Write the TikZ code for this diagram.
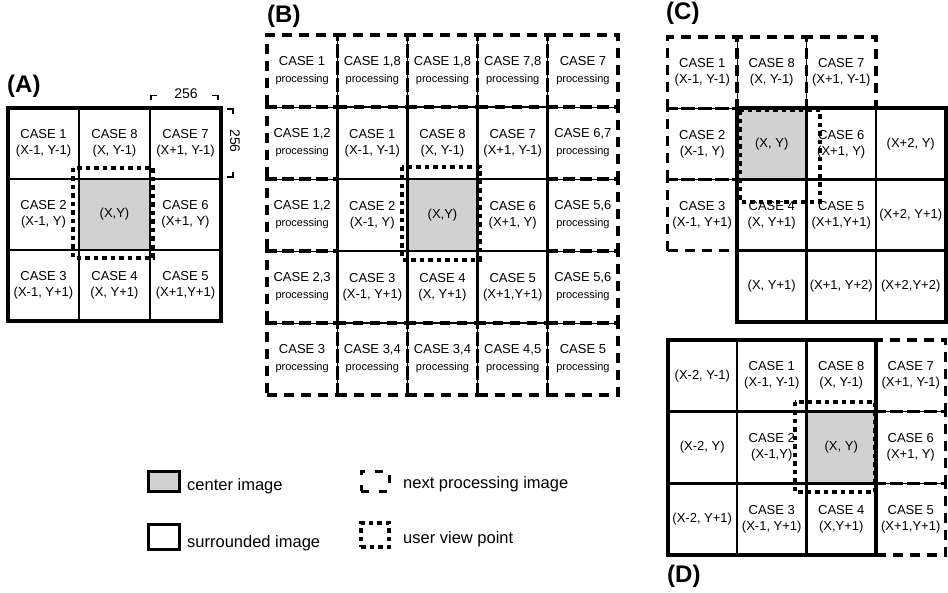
\documentclass[tikz,border=0pt]{standalone}
\usepackage{fontspec}
\setmainfont{Liberation Sans}
\usetikzlibrary{calc}
\newcommand\mycellfont{\fontsize{13}{16}\selectfont}
\newcommand\prc[1]{CASE #1\\[1pt]{\fontsize{11}{13}\selectfont processing}}
\tikzset{
  cellbase/.style={inner sep=0pt, outer sep=0pt, align=center, font=\mycellfont},
  solidc/.style={cellbase, draw, line width=2.8pt},
  dashc/.style={cellbase, draw, line width=3.2pt, dash pattern=on 10pt off 7pt},
  ctr/.style={fill=black!18},
  viewbox/.style={line width=4pt, dash pattern=on 4.5pt off 4pt},
  frame/.style={line width=4pt},
  thinl/.style={line width=0.8pt},
  szA/.style={minimum width=71pt, minimum height=71pt},
  szB/.style={minimum width=70.2pt, minimum height=72pt},
  szC/.style={minimum width=69.5pt, minimum height=71.25pt},
  szD/.style={minimum width=69.5pt, minimum height=71.67pt},
  lbl/.style={inner sep=0pt, anchor=base west, font=\fontsize{24}{24}\selectfont\bfseries},
  legtext/.style={inner sep=0pt, anchor=base west, font=\fontsize{16.5}{18}\selectfont},
  dimtext/.style={inner sep=0pt, font=\fontsize{14}{14}\selectfont},
  brk/.style={line width=1.3pt}
}
\begin{document}
\begin{tikzpicture}[x=1pt,y=-1pt]
\useasboundingbox (0,0) rectangle (948,593);
% ---------------- (A)
\node[lbl] (labA) at (7,93) {(A)};
\node[solidc,szA] (a11) at (43.5,143.5) {CASE 1\\(X-1, Y-1)};
\node[solidc,szA] (a12) at (114.5,143.5) {CASE 8\\(X, Y-1)};
\node[solidc,szA] (a13) at (185.5,143.5) {CASE 7\\(X+1, Y-1)};
\node[solidc,szA] (a21) at (43.5,214.5) {CASE 2\\(X-1, Y)};
\node[solidc,szA,ctr] (a22) at (114.5,214.5) {(X,Y)};
\node[solidc,szA] (a23) at (185.5,214.5) {CASE 6\\(X+1, Y)};
\node[solidc,szA] (a31) at (43.5,285.5) {CASE 3\\(X-1, Y+1)};
\node[solidc,szA] (a32) at (114.5,285.5) {CASE 4\\(X, Y+1)};
\node[solidc,szA] (a33) at (185.5,285.5) {CASE 5\\(X+1,Y+1)};
\draw[frame] (a11.north west) rectangle (a33.south east);
\draw[viewbox] ($(a22.north west)+(-6,-11)$) rectangle ($(a22.south east)+(3,8)$);
% dimensions
\node[dimtext] (dimh) at (186,94) {256};
\draw[brk] (151,100) -- (151,95.5) -- (157,95.5);
\draw[brk] (212,95.5) -- (218,95.5) -- (218,100);
\node[dimtext, rotate=-90] (dimv) at (235,141) {256};
\draw[brk] (227,109) -- (233,109) -- (233,114);
\draw[brk] (227,177) -- (233,177) -- (233,172);
% ---------------- (B)
\node[lbl] (labB) at (267,23) {(B)};
\node[dashc,szB] (b11) at (302.1,71) {\prc{1}};
\node[dashc,szB] (b12) at (372.3,71) {\prc{1,8}};
\node[dashc,szB] (b13) at (442.5,71) {\prc{1,8}};
\node[dashc,szB] (b14) at (512.7,71) {\prc{7,8}};
\node[dashc,szB] (b15) at (582.9,71) {\prc{7}};
\node[dashc,szB] (b21) at (302.1,143) {\prc{1,2}};
\node[dashc,szB] (b25) at (582.9,143) {\prc{6,7}};
\node[dashc,szB] (b31) at (302.1,215) {\prc{1,2}};
\node[dashc,szB] (b35) at (582.9,215) {\prc{5,6}};
\node[dashc,szB] (b41) at (302.1,287) {\prc{2,3}};
\node[dashc,szB] (b45) at (582.9,287) {\prc{5,6}};
\node[dashc,szB] (b51) at (302.1,359) {\prc{3}};
\node[dashc,szB] (b52) at (372.3,359) {\prc{3,4}};
\node[dashc,szB] (b53) at (442.5,359) {\prc{3,4}};
\node[dashc,szB] (b54) at (512.7,359) {\prc{4,5}};
\node[dashc,szB] (b55) at (582.9,359) {\prc{5}};
\foreach \n in {b11,b12,b13,b14,b51,b52,b53,b54}
  \draw[thinl] (\n.north east) -- (\n.south east);
\foreach \n in {b11,b21,b31,b41,b15,b25,b35,b45}
  \draw[thinl] (\n.south west) -- (\n.south east);
\node[solidc,szB] (b22) at (372.3,143) {CASE 1\\(X-1, Y-1)};
\node[solidc,szB] (b23) at (442.5,143) {CASE 8\\(X, Y-1)};
\node[solidc,szB] (b24) at (512.7,143) {CASE 7\\(X+1, Y-1)};
\node[solidc,szB] (b32) at (372.3,215) {CASE 2\\(X-1, Y)};
\node[solidc,szB,ctr] (b33) at (442.5,215) {(X,Y)};
\node[solidc,szB] (b34) at (512.7,215) {CASE 6\\(X+1, Y)};
\node[solidc,szB] (b42) at (372.3,287) {CASE 3\\(X-1, Y+1)};
\node[solidc,szB] (b43) at (442.5,287) {CASE 4\\(X, Y+1)};
\node[solidc,szB] (b44) at (512.7,287) {CASE 5\\(X+1,Y+1)};
\draw[viewbox] ($(b33.north west)+(-5,-12)$) rectangle ($(b33.south east)+(2.5,9)$);
% ---------------- (C)
\node[lbl] (labC) at (666,20) {(C)};
\node[dashc,szC] (c01) at (702.25,72.6) {CASE 1\\(X-1, Y-1)};
\node[dashc,szC] (c02) at (771.75,72.6) {CASE 8\\(X, Y-1)};
\node[dashc,szC] (c03) at (841.25,72.6) {CASE 7\\(X+1, Y-1)};
\node[dashc,szC] (c11) at (702.25,143.9) {CASE 2\\(X-1, Y)};
\node[dashc,szC] (c21) at (702.25,215.1) {CASE 3\\(X-1, Y+1)};
\foreach \n in {c01,c02}
  \draw[thinl] (\n.north east) -- (\n.south east);
\foreach \n in {c01,c11}
  \draw[thinl] (\n.south west) -- (\n.south east);
\node[solidc,szC,ctr] (c12) at (771.75,143.9) {(X, Y)};
\node[solidc,szC] (c13) at (841.25,143.9) {CASE 6\\(X+1, Y)};
\node[solidc,szC] (c14) at (910.75,143.9) {(X+2, Y)};
\node[solidc,szC] (c22) at (771.75,215.1) {CASE 4\\(X, Y+1)};
\node[solidc,szC] (c23) at (841.25,215.1) {CASE 5\\(X+1,Y+1)};
\node[solidc,szC] (c24) at (910.75,215.1) {(X+2, Y+1)};
\node[solidc,szC] (c32) at (771.75,286.4) {(X, Y+1)};
\node[solidc,szC] (c33) at (841.25,286.4) {(X+1, Y+2)};
\node[solidc,szC] (c34) at (910.75,286.4) {(X+2,Y+2)};
\draw[frame] (c12.north west) rectangle (c34.south east);
\draw[viewbox] ($(c12.north west)+(3,2)$) rectangle ($(c12.south east)+(13.5,22.5)$);
% ---------------- (D)
\node[dashc,szD] (d14) at (910.75,375.8) {CASE 7\\(X+1, Y-1)};
\node[dashc,szD] (d24) at (910.75,447.5) {CASE 6\\(X+1, Y)};
\node[dashc,szD] (d34) at (910.75,519.2) {CASE 5\\(X+1,Y+1)};
\foreach \n in {d14,d24}
  \draw[thinl] (\n.south west) -- (\n.south east);
\node[solidc,szD] (d11) at (702.25,375.8) {(X-2, Y-1)};
\node[solidc,szD] (d12) at (771.75,375.8) {CASE 1\\(X-1, Y-1)};
\node[solidc,szD] (d13) at (841.25,375.8) {CASE 8\\(X, Y-1)};
\node[solidc,szD] (d21) at (702.25,447.5) {(X-2, Y)};
\node[solidc,szD] (d22) at (771.75,447.5) {CASE 2\\(X-1,Y)};
\node[solidc,szD,ctr] (d23) at (841.25,447.5) {(X, Y)};
\node[solidc,szD] (d31) at (702.25,519.2) {(X-2, Y+1)};
\node[solidc,szD] (d32) at (771.75,519.2) {CASE 3\\(X-1, Y+1)};
\node[solidc,szD] (d33) at (841.25,519.2) {CASE 4\\(X,Y+1)};
\draw[frame] (d11.north west) rectangle (d33.south east);
\draw[viewbox] ($(d23.north west)+(-11.5,-9.7)$) rectangle ($(d23.south east)+(-1,8.7)$);
\node[lbl] (labD) at (667,582) {(D)};
% ---------------- legend
\node[draw, line width=3pt, fill=black!18, minimum width=31pt, minimum height=20pt, inner sep=0pt] (lgc) at (163.5,481) {};
\node[legtext] (lgct) at (187,490) {center image};
\node[draw, line width=3pt, minimum width=31pt, minimum height=25pt, inner sep=0pt] (lgs) at (163.5,536.5) {};
\node[legtext] (lgst) at (187,547) {surrounded image};
\node[draw, line width=3pt, dash pattern=on 8pt off 10pt, minimum width=28pt, minimum height=20pt, inner sep=0pt] (lgn) at (375,481) {};
\node[legtext] (lgnt) at (403,488) {next processing image};
\node[draw, viewbox, minimum width=28pt, minimum height=24pt, inner sep=0pt] (lgu) at (375,535) {};
\node[legtext] (lgut) at (403,543) {user view point};
\end{tikzpicture}
\end{document}
